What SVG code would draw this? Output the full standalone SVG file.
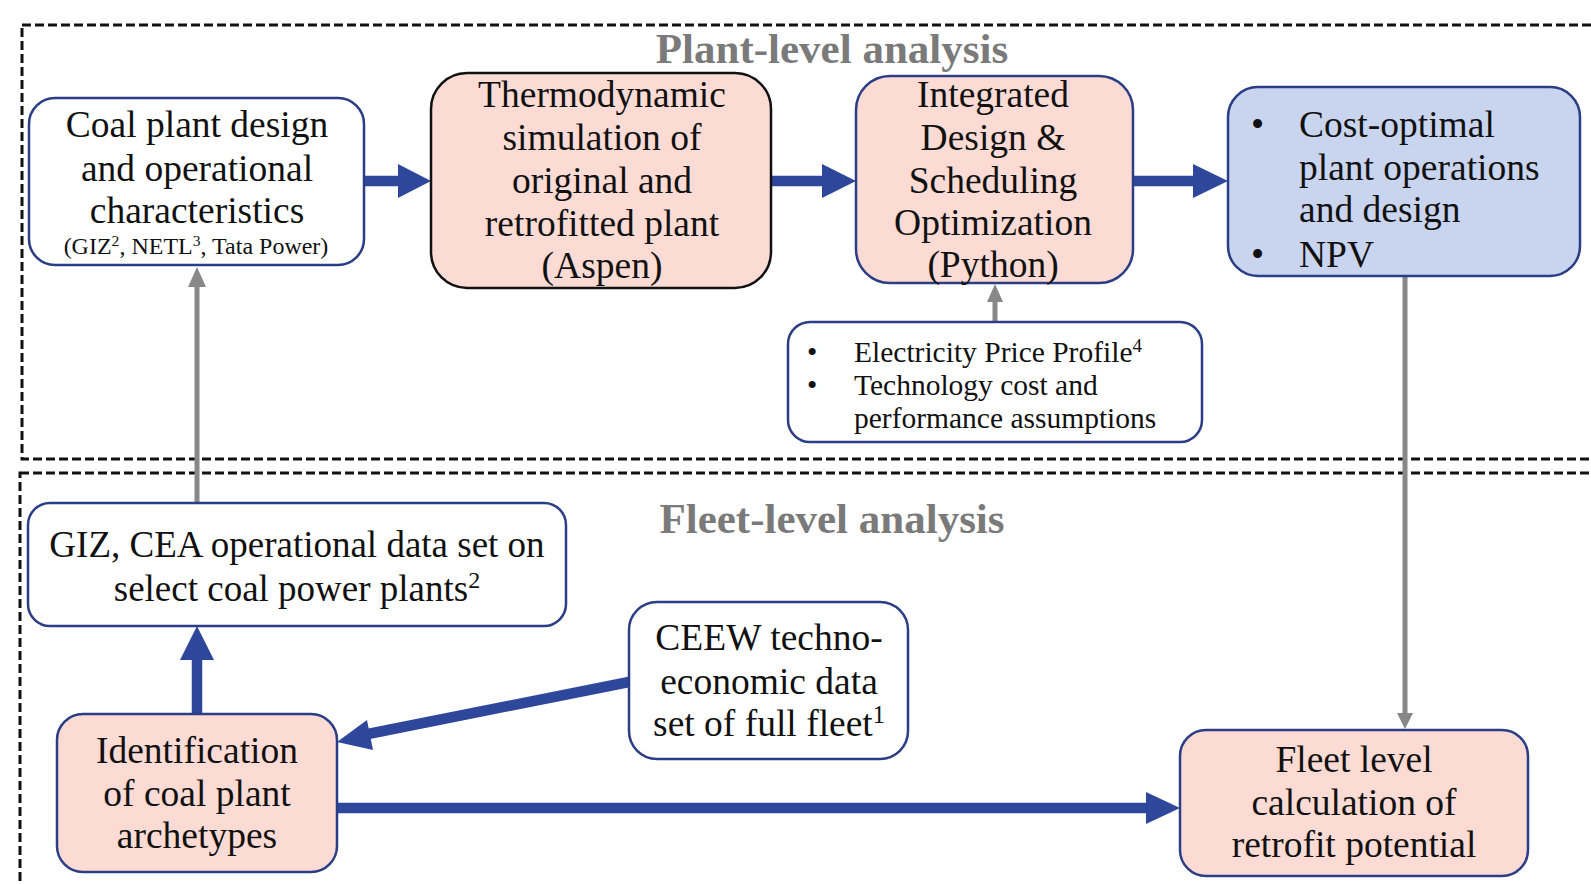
<svg xmlns="http://www.w3.org/2000/svg" width="1591" height="884" viewBox="0 0 1591 884">
<style>
text{font-family:"Liberation Serif","Times New Roman",serif;fill:#111}
.t{font-size:37.5px;text-anchor:middle}
.tl{font-size:37.5px}
.s{font-size:24px;text-anchor:middle}
.e{font-size:29.5px}
.title{font-size:43px;font-weight:bold;fill:#7a7a7a;text-anchor:middle}
.sec{fill:none;stroke:#111;stroke-width:3;stroke-dasharray:9 4}
.nv{stroke:#2b3d85;stroke-width:2.5}
.pink{fill:#fbdbd3}
.wh{fill:#fff}
.bl{fill:#c9d4ef}
.ba{stroke:#2e479b;stroke-width:10.5;fill:none}
.bh{fill:#2e479b}
.ga{stroke:#888;stroke-width:5;fill:none}
.gh{fill:#888}
.sup{font-size:65%}
</style>
<rect width="1591" height="884" fill="#fff"/>
<g id="sections">
<rect class="sec" x="22" y="25" width="1600" height="434"/>
<rect class="sec" x="20" y="473" width="1600" height="450"/>
<text class="title" x="832" y="63">Plant-level analysis</text>
<text class="title" x="832" y="533">Fleet-level analysis</text>
</g>
<g id="connectors">
<line class="ba" x1="363" y1="181" x2="399" y2="181"/>
<polygon class="bh" points="398,164 431,181 398,198"/>
<line class="ba" x1="771" y1="181" x2="823" y2="181"/>
<polygon class="bh" points="822,164 856,181 822,198"/>
<line class="ba" x1="1132" y1="181" x2="1194" y2="181"/>
<polygon class="bh" points="1193,164 1228,181 1193,198"/>
<line class="ga" x1="995" y1="322" x2="995" y2="300"/>
<polygon class="gh" points="987,302 995,284 1003,302"/>
<line class="ga" x1="1405" y1="276" x2="1405" y2="715"/>
<polygon class="gh" points="1397,713 1405,729 1413,713"/>
<line class="ga" x1="197" y1="503" x2="197" y2="285"/>
<polygon class="gh" points="188,287 197,267 206,287"/>
<line class="ba" x1="197" y1="714" x2="197" y2="658"/>
<polygon class="bh" points="180,660 197,626 214,660"/>
<line class="ba" x1="629" y1="682" x2="368" y2="734"/>
<polygon class="bh" points="367,720 337,742 373,750"/>
<line class="ba" x1="337" y1="808" x2="1147" y2="808"/>
<polygon class="bh" points="1146,792 1180,808 1146,824"/>
</g>
<g id="coal">
<rect class="wh nv" x="29" y="98" width="335" height="167" rx="26"/>
<text class="t" x="197" y="137">Coal plant design</text>
<text class="t" x="197" y="181">and operational</text>
<text class="t" x="197" y="223">characteristics</text>
<text class="s" x="196" y="254">(GIZ<tspan class="sup" baseline-shift="super">2</tspan>, NETL<tspan class="sup" baseline-shift="super">3</tspan>, Tata Power)</text>
</g>
<g id="thermo">
<rect class="pink" stroke="#111" stroke-width="2.5" x="431" y="73" width="340" height="215" rx="36"/>
<text class="t" x="602" y="107">Thermodynamic</text>
<text class="t" x="602" y="150">simulation of</text>
<text class="t" x="602" y="193">original and</text>
<text class="t" x="602" y="236">retrofitted plant</text>
<text class="t" x="602" y="278">(Aspen)</text>
</g>
<g id="integrated">
<rect class="pink nv" x="856" y="76" width="277" height="207" rx="34"/>
<text class="t" x="993" y="107">Integrated</text>
<text class="t" x="993" y="150">Design &amp;</text>
<text class="t" x="993" y="193">Scheduling</text>
<text class="t" x="993" y="235">Optimization</text>
<text class="t" x="993" y="277">(Python)</text>
</g>
<g id="cost">
<rect class="bl nv" x="1228" y="87" width="352" height="189" rx="30"/>
<text class="tl" x="1251" y="137">•</text>
<text class="tl" x="1299" y="137">Cost-optimal</text>
<text class="tl" x="1299" y="180">plant operations</text>
<text class="tl" x="1299" y="222">and design</text>
<text class="tl" x="1251" y="267">•</text>
<text class="tl" x="1299" y="267">NPV</text>
</g>
<g id="elec">
<rect class="wh nv" x="788" y="322" width="414" height="120" rx="22"/>
<text class="e" x="807" y="362">•</text>
<text class="e" x="854" y="362">Electricity Price Profile<tspan class="sup" baseline-shift="super">4</tspan></text>
<text class="e" x="807" y="395">•</text>
<text class="e" x="854" y="395">Technology cost and</text>
<text class="e" x="854" y="428">performance assumptions</text>
</g>
<g id="giz">
<rect class="wh nv" x="28" y="503" width="538" height="123" rx="22"/>
<text class="t" x="297" y="557" style="font-size:37px">GIZ, CEA operational data set on</text>
<text class="t" x="297" y="601" style="font-size:37px">select coal power plants<tspan class="sup" baseline-shift="super">2</tspan></text>
</g>
<g id="ceew">
<rect class="wh nv" x="629" y="602" width="279" height="157" rx="28"/>
<text class="t" x="769" y="650">CEEW techno-</text>
<text class="t" x="769" y="694">economic data</text>
<text class="t" x="769" y="736">set of full fleet<tspan class="sup" baseline-shift="super">1</tspan></text>
</g>
<g id="ident">
<rect class="pink nv" x="57" y="714" width="280" height="158" rx="26"/>
<text class="t" x="197" y="763">Identification</text>
<text class="t" x="197" y="806">of coal plant</text>
<text class="t" x="197" y="848">archetypes</text>
</g>
<g id="fleet">
<rect class="pink nv" x="1180" y="730" width="348" height="146" rx="26"/>
<text class="t" x="1354" y="772">Fleet level</text>
<text class="t" x="1354" y="815">calculation of</text>
<text class="t" x="1354" y="857">retrofit potential</text>
</g>
</svg>
